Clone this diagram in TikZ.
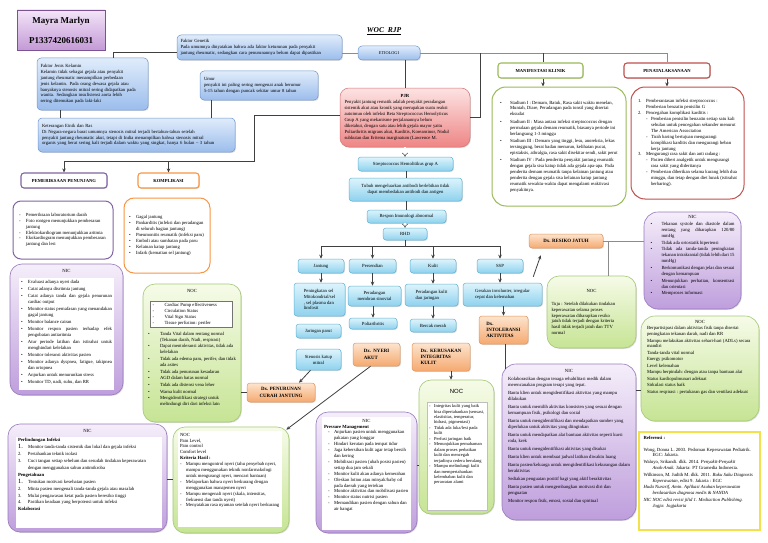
\documentclass[tikz,border=0pt]{standalone}
\usepackage{fontspec}
\setmainfont{Liberation Serif}
\setsansfont{Liberation Sans}
\usetikzlibrary{arrows.meta,shadows,calc}
\definecolor{bluT}{HTML}{E0ECFB}\definecolor{bluB}{HTML}{9BBDEC}\definecolor{bluD}{HTML}{7098D0}
\definecolor{cyaT}{HTML}{DDF4FC}\definecolor{cyaB}{HTML}{8ED2EE}\definecolor{cyaD}{HTML}{62B3D3}
\definecolor{oraT}{HTML}{FDE4CE}\definecolor{oraB}{HTML}{F5A96F}\definecolor{oraD}{HTML}{E3955A}
\definecolor{redT}{HTML}{FDE3E3}\definecolor{redB}{HTML}{EE8585}\definecolor{redD}{HTML}{D47575}
\definecolor{purT}{HTML}{F5EEFA}\definecolor{purB}{HTML}{BE9EDC}\definecolor{purD}{HTML}{987ABD}
\definecolor{grnT}{HTML}{F6FBE8}\definecolor{grnB}{HTML}{C6E494}\definecolor{grnD}{HTML}{A4C877}
\definecolor{namT}{HTML}{F3E4F8}\definecolor{namB}{HTML}{C39AD6}\definecolor{namD}{HTML}{7D5294}
\definecolor{hGrn}{HTML}{9BBB59}\definecolor{hRed}{HTML}{C0504D}\definecolor{hPur}{HTML}{8064A2}
\definecolor{hOra}{HTML}{F79646}\definecolor{refD}{HTML}{F2E14B}
\hyphenpenalty=10000 \exhyphenpenalty=10000
\newcommand\fsz{\fontsize{4.7}{5.9}\selectfont}
\newcommand\fsb{\fontsize{4.9}{6.2}\selectfont\bfseries}
\newcommand\fsh{\fontsize{4.6}{5.5}\selectfont\bfseries}
\newcommand\fsn{\fontsize{9}{12}\selectfont\bfseries}
\newcommand\bitem[2][7pt]{\par\hangindent=#1\hangafter=1\noindent\hbox to #1{\textbullet\hfil}#2}
\newcommand\ditem[2][6pt]{\par\hangindent=#1\hangafter=1\noindent\hbox to #1{-\hfil}#2}
\newcommand\nitem[3][8pt]{\par\hangindent=#1\hangafter=1\noindent\hbox to #1{#2\hfil}#3}
\tikzset{
  every node/.style={font=\fsz, inner sep=2pt},
  shad/.style={drop shadow={opacity=0.28,shadow xshift=0.9pt,shadow yshift=-0.9pt}},
  bluebox/.style={shad, draw=bluD, top color=bluT, bottom color=bluB, rounded corners=4pt, align=left, line width=0.5pt},
  cyanbox/.style={shad, draw=cyaD, top color=cyaT, bottom color=cyaB, rounded corners=3pt, align=center, line width=0.5pt},
  orabox/.style={shad, draw=oraD, top color=oraT, bottom color=oraB, rounded corners=3pt, font=\fsb, line width=0.5pt},
  redbox/.style={shad, draw=redD, top color=redT, bottom color=redB, rounded corners=9pt, line width=0.5pt},
  purbox/.style={shad, draw=purD, top color=purT, bottom color=purB, rounded corners=12pt, line width=0.6pt},
  grnbox/.style={shad, draw=grnD, top color=grnT, bottom color=grnB, rounded corners=12pt, line width=0.6pt},
  namebox/.style={shad, draw=namD, top color=namT, bottom color=namB, line width=0.9pt, align=center, font=\fsn},
  hdr/.style={shad, fill=white, rounded corners=3pt, line width=1.1pt, font=\fsh, align=center},
  listbox/.style={fill=white, line width=1pt},
  conn/.style={draw=black!75, line width=0.8pt},
  connL/.style={draw=black!45, line width=0.9pt},
  arr/.style={conn, -{Stealth[length=4pt,width=3.5pt]}},
  hollow/.style={draw=black!80, double=white, double distance=1.6pt, line width=0.45pt, -{Implies}},
  whitein/.style={fill=white, inner sep=2pt},
}
\begin{document}
\begin{tikzpicture}[x=1pt,y=-1pt]
\useasboundingbox (0,0) rectangle (768,543);
\fill[white] (0,0) rectangle (768,543);

% ---- header and etiology ----
\node[namebox, minimum width=88pt, minimum height=40pt] (name) at (61,30)
  {Mayra Marlyn\\[8pt]P1337420616031};
\node[font=\fontsize{7.5}{9}\selectfont\bfseries\itshape] (title) at (384,31) {\underline{WOC\ \ RJP}};

\node[bluebox, minimum width=165pt, minimum height=25pt, text width=158pt] (fg) at (259.5,47.5)
  {Faktor Genetik\\Pada umumnya dinyatakan bahwa ada faktor keturunan pada penyakit\\jantung rheumatic, sedangkan cara penurunannya belum dapat dipastikan};
\node[bluebox, minimum width=62pt, minimum height=14pt, align=center, font=\fontsize{4.3}{5}\selectfont] (etio) at (389,53) {ETIOLOGI};
\node[bluebox, minimum width=118pt, minimum height=29pt, text width=110pt] (umur) at (259,85.5)
  {Umur\\penyakit ini paling sering mengenai anak berumur\\5-15 tahun dengan puncak sekitar umur 8 tahun};
\node[bluebox, minimum width=111pt, minimum height=52pt, text width=104pt] (fjk) at (92.5,84)
  {Faktor Jenis Kelamin\\Kelamin tidak sebagai gejala atau penyakit\\jantung rheumatic menampilkan perbedaan\\jenis kelamin. Pada orang dewasa gejala atau\\banyaknya stenosis mitral sering didapatkan pada\\wanita. Sedangkan insufisiensi aorta lebih\\sering ditemukan pada laki-laki};
\node[bluebox, minimum width=197pt, minimum height=34pt, text width=189pt] (etnik) at (136.5,135)
  {Keterangan Etnik dan Ras\\Di Negara-negara barat umumnya stenosis mitral terjadi bertahun-tahun setelah\\penyakit jantung rheumatic akut, tetapi di India menampilkan bahwa stenosis mitral\\organis yang berat sering kali terjadi dalam waktu yang singkat, hanya 6 bulan -- 3 tahun};

\node[redbox, minimum width=130pt, minimum height=59pt] (pjr) at (405,117.5)
  {\parbox{121pt}{\centerline{\bfseries PJR}\raggedright Penyakit jantung rematik adalah penyakit peradangan\\sistemik akut atau kronik yang merupakan suatu reaksi\\autoimun oleh infeksi Beta Streptococcus Hemolyticus\\Grup A yang mekanisme perjalanannya belum\\diketahui, dengan satu atau lebih gejala mayor yaitu\\Poliarthritis migrans akut, Karditis, Korearninor, Nodul\\subkutan dan Eritema marginatum (Lawrence M.}};

% ---- central chain ----
\node[cyanbox, minimum width=95pt, minimum height=14pt] (strep) at (405.5,164) {Streptococcus Hemolitikus grup A};
\node[cyanbox, minimum width=113pt, minimum height=23pt] (tubuh) at (405.5,189.5) {Tubuh mengeluarkan antibodi berlebihan tidak\\dapat membedakan antibodi dan antigen};
\node[cyanbox, minimum width=79pt, minimum height=13pt] (respon) at (406.5,216.5) {Respon Imunologi abnormal};
\node[cyanbox, minimum width=44pt, minimum height=12pt] (rhd) at (405,234) {RHD};
\node[cyanbox, minimum width=46pt, minimum height=14pt] (jantung) at (321,266) {Jantung};
\node[cyanbox, minimum width=47pt, minimum height=14pt] (sendi) at (372.5,266) {Persendian};
\node[cyanbox, minimum width=46pt, minimum height=14pt] (kulit) at (433,266) {Kulit};
\node[cyanbox, minimum width=46pt, minimum height=14pt] (ssp) at (500,266) {SSP};
\node[cyanbox, minimum width=51pt, minimum height=33pt, align=left] (pening) at (319.5,299.5) {Peningkatan sel\\Mitokondrial/sel\\, sel plasma dan\\limfosit};
\node[cyanbox, minimum width=53pt, minimum height=20pt] (radang) at (374.5,296) {Peradangan\\membran sinovial};
\node[cyanbox, minimum width=53pt, minimum height=22pt, align=left] (pkulit) at (431.5,295) {Peradangan kulit\\dan jaringan};
\node[cyanbox, minimum width=79pt, minimum height=23pt, align=left] (gerak) at (502.5,294.5) {Gerakan involunter, irregular\\cepat dan kelemahan};
\node[cyanbox, minimum width=45pt, minimum height=14pt] (parut) at (318.5,331) {Jaringan parut};
\node[cyanbox, minimum width=48pt, minimum height=11pt] (polia) at (373,323.5) {Poliarthritis};
\node[cyanbox, minimum width=46pt, minimum height=13pt] (bercak) at (433,325.5) {Bercak merah};
\node[cyanbox, minimum width=45pt, minimum height=21pt] (stenosis) at (318.5,359.5) {Stenosis katup\\mitral};
\node[orabox, minimum width=49pt, minimum height=28pt, align=left] (intol) at (503.5,330) {Dx.\\INTOLERANSI\\AKTIVITAS};
\node[orabox, minimum width=47pt, minimum height=23pt, align=left] (nyeri) at (376.5,354.5) {Dx.\ \ NYERI\\AKUT};
\node[orabox, minimum width=58pt, minimum height=28pt, align=left] (kerus) at (441,357) {Dx.\ \ KERUSAKAN\\INTEGRITAS\\KULIT};
\node[orabox, minimum width=68pt, minimum height=19pt, align=center] (turun) at (281,392.5) {Dx. PENURUNAN\\CURAH JANTUNG};
\node[orabox, minimum width=74pt, minimum height=14pt, align=center] (resiko) at (566,241) {Dx. RESIKO JATUH};

% ---- manifestasi & penatalaksanaan ----
\node[hdr, draw=hGrn, minimum width=85pt, minimum height=15pt] (mkh) at (540.5,70.5) {MANIFESTASI KLINIK};
\node[hdr, draw=hRed, minimum width=86pt, minimum height=15pt] (penh) at (667,70.5) {PENATALAKSANAAN};
\node[listbox, draw=hGrn, rounded corners=14pt, minimum width=134pt, minimum height=119pt] (mk) at (559,146.5)
  {\parbox[c][110pt][c]{118pt}{\setlength\parskip{1.5pt}\raggedright
  \bitem[10pt]{Stadium I : Demam, Batuk, Rasa sakit waktu menelan, Muntah, Diare, Peradangan pada tonsil yang disertai eksudat}
  \bitem[10pt]{Stadium II : Masa antara infeksi streptococcus dengan permulaan gejala demam reumatik, biasanya periode ini berlangsung 1-3 minggu}
  \bitem[10pt]{Stadium III : Demam yang tinggi, lesu, anoreksia, lekas tersinggung, berat badan menurun, kelihatan pucat, epistaksis, athralgia, rasa sakit disekitar sendi, sakit perut}
  \bitem[10pt]{Stadium IV : Pada penderita penyakit jantung reumatik dengan gejala sisa katup tidak ada gejala apa-apa. Pada penderita demam reumatik tanpa kelainan jantung atau penderita dengan gejala sisa kelainan katup jantung reumatik sewaktu-waktu dapat mengalami reaktivasi penyakitnya.}}};
\node[listbox, draw=hRed, rounded corners=14pt, minimum width=113pt, minimum height=112pt] (pen) at (687.5,143)
  {\parbox[c][104pt][c]{99pt}{\raggedright
  \nitem{1.}{Pemberantasan infeksi streptococcus : Pemberian benzatin penisilin G}
  \nitem{2.}{Pencegahan komplikasi karditis :}
  \par\leftskip=8pt \ditem[5pt]{Pemberian penisilin benzatin setiap satu kali sebulan untuk pencegahan sekunder menurut The American Association}
  \ditem[5pt]{Tirah baring bertujuan mengurangi komplikasi karditis dan mengurangi beban kerja jantung}
  \par\leftskip=0pt \nitem{3.}{Mengurangi rasa sakit dan anti radang :}
  \par\leftskip=8pt \ditem[5pt]{Pasien diberi analgetik untuk mengurangi rasa sakit yang dideritanya}
  \ditem[5pt]{Pemberian diberikan selama kurang lebih dua minggu, dan tetap dengan diet lunak (istirahat berbaring).}}};

% ---- pemeriksaan & komplikasi ----
\node[hdr, draw=hPur, minimum width=86pt, minimum height=15pt] (pph) at (64,180.5) {PEMERIKSAAN PENUNJANG};
\node[hdr, draw=hOra, minimum width=61pt, minimum height=15pt] (kph) at (168.5,180.5) {KOMPLIKASI};
\node[listbox, draw=hPur, rounded corners=8pt, minimum width=100pt, minimum height=58pt] (ppl) at (63,230)
  {\parbox{88pt}{\raggedright
  \ditem[7pt]{Pemeriksaan laboratorium darah}
  \ditem[7pt]{Foto rontgen menunjukkan pembesaran jantung}
  \ditem[7pt]{Elektrokardiogram menunjukkan aritmia}
  \ditem[7pt]{Ekokardiogram menunjukkan pembesaran jantung dan lesi}}};
\node[listbox, draw=hOra, rounded corners=10pt, minimum width=86pt, minimum height=75pt] (kpl) at (167,235.5)
  {\parbox{76pt}{\raggedright
  \bitem{Gagal jantung}
  \bitem{Pankarditis (infeksi dan peradangan di seluruh bagian jantung)}
  \bitem{Pneumonitis reumatik (infeksi paru)}
  \bitem{Emboli atau sumbatan pada paru}
  \bitem{Kelainan katup jantung}
  \bitem{Infark (kematian sel jantung)}}};

% ---- NIC left ----
\node[purbox, minimum width=113pt, minimum height=131pt] (nic1) at (66.5,329.5) {};
\node (nic1t) at (66.5,271) {NIC};
\node[whitein] (nic1b) at (66.5,334)
  {\parbox[c][108pt][t]{91pt}{\setlength\parskip{1.2pt}
  \bitem{Evaluasi adanya nyeri dada}
  \bitem{Catat adanya disritmia jantung}
  \bitem{Catat adanya tanda dan gejala penurunan cardiac output}
  \bitem{Monitor status pernafasan yang menandakan gagal jantung}
  \bitem{Monitor balance cairan}
  \bitem{Monitor respon pasien terhadap efek pengobatan antiaritmia}
  \bitem{Atur periode latihan dan istirahat untuk menghindari kelelahan}
  \bitem{Monitor toleransi aktivitas pasien}
  \bitem{Monitor adanya dyspnea, fatigue, takipnea dan ortopnea}
  \bitem{Anjurkan untuk menurunkan stress}
  \bitem{Monitor TD, nadi, suhu, dan RR}}};

% ---- NOC (cardiac) ----
\node[grnbox, minimum width=98pt, minimum height=138pt] (noc1) at (192,353) {};
\node (noc1t) at (192,291) {NOC};
\node[draw=black!55, fill=white, line width=0.3pt] (noc1a) at (191.5,314.5)
  {\parbox{78pt}{\raggedright
  \ditem[12pt]{Cardiac Pump effectiveness}
  \ditem[12pt]{Circulation Status}
  \ditem[12pt]{Vital Sign Status}
  \ditem[12pt]{Tissue perfusion: perifer}}};
\node (noc1b) at (192,375)
  {\parbox[c][86pt][t]{88pt}{\raggedright\setlength\parskip{0.8pt}
  \bitem[12pt]{Tanda Vital dalam rentang normal (Tekanan darah, Nadi, respirasi)}
  \bitem[12pt]{Dapat mentoleransi aktivitas, tidak ada kelelahan}
  \bitem[12pt]{Tidak ada edema paru, perifer, dan tidak ada asites}
  \bitem[12pt]{Tidak ada penurunan kesadaran}
  \bitem[12pt]{AGD dalam batas normal}
  \bitem[12pt]{Tidak ada distensi vena leher}
  \bitem[12pt]{Warna kulit normal}
  \bitem[12pt]{Mengidentifikasi strategi untuk melindungi diri dari infeksi lain}}};

% ---- NIC infeksi ----
\node[purbox, minimum width=159pt, minimum height=108pt] (nic2) at (87.5,478) {};
\node (nic2t) at (87.5,431) {NIC};
\node[whitein] (nic2b) at (89,482)
  {\parbox[c][87pt][t]{142pt}{\fontsize{4.7}{6.9}\selectfont\raggedright
  \textbf{Perlindungan Infeksi}
  \nitem[10pt]{{\fontsize{6.5}{6}\selectfont 1.}}{Monitor tanda-tanda sistemik dan lokal dan gejala infeksi}
  \nitem[10pt]{2.}{Pertahankan teknik isolasi}
  \nitem[10pt]{3.}{Cuci tangan setiap sebelum dan sesudah tindakan keperawatan dengan menggunakan sabun antimikroba}
  \par\noindent\textbf{Pengetahuan}
  \nitem[10pt]{{\fontsize{6.5}{6}\selectfont 1.}}{Tentukan motivasi kesehatan pasien}
  \nitem[10pt]{2.}{Minta pasien mengenali tanda-tanda gejala atau masalah}
  \nitem[10pt]{3.}{Mulai pengawasan ketat pada pasien beresiko tinggi}
  \nitem[10pt]{4.}{Pastikan keadaan yang berpotensi untuk infeksi}
  \par\noindent\textbf{Kolaborasi}}};

% ---- NOC nyeri ----
\node[grnbox, minimum width=116pt, minimum height=106pt] (noc2) at (231,480) {};
\node[whitein] (noc2b) at (230,479)
  {\parbox[c][92pt][t]{100pt}{\raggedright
  NOC\\Pain Level,\\Pain control\\Comfort level\\\textbf{Kriteria Hasil :}
  \ditem{Mampu mengontrol nyeri (tahu penyebab nyeri, mampu menggunakan teknik nonfarmakologi untuk mengurangi nyeri, mencari bantuan)}
  \ditem{Melaporkan bahwa nyeri berkurang dengan menggunakan manajemen nyeri}
  \ditem{Mampu mengenali nyeri (skala, intensitas, frekuensi dan tanda nyeri)}
  \ditem{Menyatakan rasa nyaman setelah nyeri berkurang}}};

% ---- NIC pressure ----
\node[purbox, minimum width=101pt, minimum height=121pt] (nic3) at (366.5,472.5) {};
\node[whitein] (nic3b) at (366.5,473.5)
  {\parbox[c][109pt][t]{85pt}{\centerline{NIC}\raggedright\textbf{Pressure Management}
  \par\leftskip=4pt
  \ditem{Anjurkan pasien untuk menggunakan pakaian yang longgar}
  \ditem{Hindari kerutan pada tempat tidur}
  \ditem{Jaga kebersihan kulit agar tetap bersih dan kering}
  \ditem{Mobilisasi pasien (ubah posisi pasien) setiap dua jam sekali}
  \ditem{Monitor kulit akan adanya kemerahan}
  \ditem{Oleskan lotion atau minyak/baby oil pada daerah yang tertekan}
  \ditem{Monitor aktivitas dan mobilisasi pasien}
  \ditem{Monitor status nutrisi pasien}
  \ditem{Memandikan pasien dengan sabun dan air hangat}}};

% ---- NOC kulit ----
\node[grnbox, minimum width=75pt, minimum height=134pt] (noc3) at (456.5,447) {};
\node[font=\sffamily\fontsize{6}{6}\selectfont] (noc3t) at (456.5,391) {NOC};
\node[whitein, draw=black!25, line width=0.3pt] (noc3b) at (457,456.5)
  {\parbox[c][104pt][t]{56pt}{\fontsize{4.5}{5.45}\selectfont\raggedright
  \ditem[5pt]{Integritas kulit yang baik bisa dipertahankan (sensasi, elastisitas, temperatur, hidrasi, pigmentasi)}
  \ditem[5pt]{Tidak ada luka/lesi pada kulit}
  \ditem[5pt]{Perfusi jaringan baik}
  \ditem[5pt]{Menunjukkan pemahaman dalam proses perbaikan kulit dan mencegah terjadinya cedera berulang}
  \ditem[5pt]{Mampu melindungi kulit dan mempertahankan kelembaban kulit dan perawatan alami}}};

% ---- NIC aktivitas ----
\node[purbox, rounded corners=14pt, minimum width=134pt, minimum height=156pt] (nic4) at (569,442)
  {\parbox[c][146pt][t]{122pt}{\centerline{NIC}\raggedright\setlength\parskip{2.2pt}
  \par Kolaborasikan dengan tenaga rehabilitasi medik dalam merencanakan program terapi yang tepat.
  \par Bantu klien untuk mengidentifikasi aktivitas yang mampu dilakukan
  \par Bantu untuk memilih aktivitas konsisten yang sesuai dengan kemampuan fisik, psikologi dan sosial
  \par Bantu untuk mengidentifikasi dan mendapatkan sumber yang diperlukan untuk aktivitas yang diinginkan
  \par Bantu untuk mendapatkan alat bantuan aktivitas seperti kursi roda, krek
  \par Bantu untuk mengidentifikasi aktivitas yang disukai
  \par Bantu klien untuk membuat jadwal latihan diwaktu luang
  \par Bantu pasien/keluarga untuk mengidentifikasi kekurangan dalam beraktivitas
  \par Sediakan penguatan positif bagi yang aktif beraktivitas
  \par Bantu pasien untuk mengembangkan motivasi diri dan penguatan
  \par Monitor respon fisik, emosi, sosial dan spiritual}};

% ---- NOC resiko jatuh ----
\node[grnbox, minimum width=89pt, minimum height=72pt] (nocT) at (591.5,312)
  {\parbox{80pt}{\centerline{NOC}\vspace{7pt}\raggedright Tuju : Setelah dilakukan tindakan\\keperawatan selama proses\\keperawatan diharapkan resiko\\jatuh tidak terjadi dengan kriteria\\hasil tidak terjadi jatuh dan TTV\\normal}};

% ---- NIC right ----
\node[purbox, rounded corners=14pt, minimum width=97pt, minimum height=97pt] (nic5) at (692.5,260.5)
  {\parbox[c][90pt][t]{84pt}{\centerline{NIC}\setlength\parskip{0.9pt}
  \bitem[11pt]{Tekanan systole dan diastole dalam rentang yang diharapkan 120/80 mmHg}
  \bitem[11pt]{Tidak ada ortostatik hipertensi}
  \bitem[11pt]{Tidak ada tanda-tanda peningkatan tekanan intrakranial (tidak lebih dari 15 mmHg)}
  \bitem[11pt]{Berkomunikasi dengan jelas dan sesuai dengan kemampuan}
  \bitem[11pt]{Menunjukkan perhatian, konsentrasi dan orientasi}
  \bitem[11pt]{Memproses informasi}}};

% ---- NOC right ----
\node[grnbox, rounded corners=14pt, minimum width=118pt, minimum height=105pt] (noc4) at (700,368.5)
  {\parbox[c][97pt][t]{106pt}{\centerline{NOC}\raggedright\setlength\parskip{0.6pt}
  \par Berpartisipasi dalam aktivitas fisik tanpa disertai peningkatan tekanan darah, nadi dan RR
  \par Mampu melakukan aktivitas sehari-hari (ADLs) secara mandiri
  \par Tanda-tanda vital normal
  \par Energy psikomotor
  \par Level kelemahan
  \par Mampu berpindah: dengan atau tanpa bantuan alat
  \par Status kardiopulmunari adekuat
  \par Sirkulasi status baik
  \par Status respirasi : pertukaran gas dan ventilasi adekuat}};

% ---- Referensi ----
\node[draw=refD, line width=1.1pt, fill=white, minimum width=121pt, minimum height=98pt] (ref) at (699.5,481)
  {\parbox[c][90pt][t]{112pt}{\raggedright\textbf{Referensi :}\par\vspace{5pt}\setlength\parskip{0.8pt}
  \par\hangindent=9pt\hangafter=1 Wong, Donna L. 2003. Pedoman Keperawatan Pediatrik. EGC: Jakarta.
  \par\hangindent=9pt\hangafter=1 Waluyo, Srikandi. dkk. 2014. \textit{Penyakit-Penyakit Anak-Anak}. Jakarta: PT Gramedia Indonesia.
  \par\hangindent=9pt\hangafter=1 Wilkinson, M. Judith M. dkk. 2011. \textit{Buku Saku Diagnosis Keperawatan}, edisi 9. Jakarta : EGC
  \par\hangindent=9pt\hangafter=1 \textit{Huda Nurarif, Amin. Aplikasi Asuhan keperawatan berdasarkan diagnosa medis \& NANDA}
  \par\hangindent=9pt\hangafter=1 \textit{NIC NOC edisi revisi jilid 1. Mediaction Publishing. Jogja: Jogjakarta}}};

% ================= connectors =================
\draw[conn] ([yshift=-4.5pt]fg.west) -| (fjk.north -| 113,0);
\draw[conn] (fjk.south -| 60,0) -- (etnik.north -| 60,0);
\draw[conn] (umur.south -| 211,0) -- (etnik.north -| 211,0);
\draw[connL] ([yshift=-5.5pt]fg.east) -- (etio.west);
\draw[conn] (etio.south -| 405,0) -- (pjr.north -| 405,0);
\draw[connL] (etio.east) -| (penh.north);
\draw[conn] (480,53) |- (pjr.east |- 0,117);
\draw[conn] (543,53) -- (mkh.north -| 543,0);
\draw[arr] (mkh.south -| 543,0) -- (mk.north -| 543,0);
\draw[arr] (penh.south) -- (penh.south |- pen.north);
\draw[conn] (pjr.west |- 0,115) -| (254,161) -- (pph.north |- 0,161);
\draw[arr] (pph.north |- 0,161) -- (pph.north);
\draw[arr] (kph.north |- 0,161) -- (kph.north);

\draw[hollow] (pjr.south) -- (strep.north -| pjr.south);
\draw[conn] (strep.south -| 406,0) -- (tubuh.north -| 406,0);
\draw[conn] (tubuh.south -| 406,0) -- (respon.north -| 406,0);
\draw[hollow] (respon.south -| 405,0) -- (rhd.north);
\draw[conn] (rhd.south) -- (rhd.south |- 0,246);
\draw[conn] (jantung.north |- 0,246) -- (ssp.north |- 0,246);
\draw[arr] (jantung.north |- 0,246) -- (jantung.north);
\draw[arr] (sendi.north |- 0,246) -- (sendi.north);
\draw[arr] (kulit.north |- 0,246) -- (kulit.north);
\draw[arr] (ssp.north |- 0,246) -- (ssp.north);
\draw[arr] (jantung.south) -- (jantung.south |- pening.north);
\draw[arr] (sendi.south) -- (sendi.south |- radang.north);
\draw[arr] (kulit.south) -- (kulit.south |- pkulit.north);
\draw[arr] (ssp.south) -- (ssp.south |- gerak.north);
\draw[arr] (radang.south -| polia.north) -- (polia.north);
\draw[arr] (pkulit.south -| bercak.north) -- (bercak.north);
\draw[arr] (gerak.south -| intol.north) -- (intol.north);
\draw[arr] ($(gerak.north east)+(-9,-6)$) -- ($(resiko.south west)+(12,7)$);
\draw[arr] ([xshift=-8pt]stenosis.south) -- ([xshift=18pt]turun.north);
\draw[arr] ([xshift=-6pt]nyeri.south) -- ($(noc2.north east)+(-3,3)$);
\draw[arr] (kerus.south -| 451,0) -- (noc3.north -| 451,0);
\draw[conn] (intol.south -| 505,0) -- ($(nic4.north -| 505,0)+(0,5)$);
\draw[conn] (turun.west) -- (turun.west -| noc1.east);
\draw[conn] (nic2.east |- 0,479) -- (noc2.west |- 0,479);
\draw[conn] (nic3.east |- 0,465) -- (noc3.west |- 0,465);
\draw[conn] (nic4.east |- 0,390) -- (noc4.west |- 0,390);
\draw[connL] (resiko.east) -- (resiko.east -| nic5.west);
\draw[connL] (resiko.east -| 608,0) -- (nocT.north -| 608,0);
\end{tikzpicture}
\end{document}
